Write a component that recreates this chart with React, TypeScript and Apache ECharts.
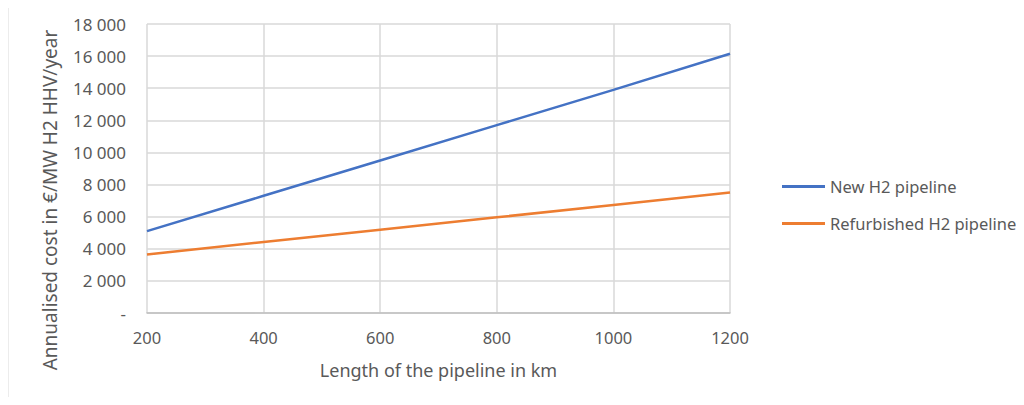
import React, { useEffect, useRef } from "react";
import * as echarts from "echarts";

const lengthsKm = [200, 400, 600, 800, 1000, 1200];
const newH2 = [5100, 7300, 9500, 11700, 13900, 16150];
const refurbishedH2 = [3650, 4420, 5190, 5960, 6730, 7500];
const seriesNames = ["New H2 pipeline", "Refurbished H2 pipeline"];
const xTitle = "Length of the pipeline in km";
const yTitle = "Annualised cost in €/MW H2 HHV/year";

const FONT = "'Noto Sans', sans-serif";
const TXT = "#595959";

export default function App() {
  const ref = useRef<HTMLDivElement>(null);
  useEffect(() => {
    if (!ref.current) return;
    const chart = echarts.init(ref.current, undefined, { renderer: "svg" });
    const fmt = (v: number) => {
      if (v === 0) return "-";
      const s = String(v);
      return s.length > 3 ? s.slice(0, s.length - 3) + " " + s.slice(-3) : s;
    };
    chart.setOption({
      animation: false,
      backgroundColor: "#ffffff",
      textStyle: { fontFamily: FONT },
      grid: { left: 139, right: 286, top: 16, bottom: 84, containLabel: false },
      legend: {
        orient: "vertical",
        left: 769,
        top: 165,
        icon: "rect",
        itemWidth: 43,
        itemHeight: 3,
        itemGap: 20,
        textStyle: { color: TXT, fontSize: 16.5, fontFamily: FONT },
        data: seriesNames,
      },
      xAxis: {
        type: "value",
        min: 200,
        max: 1200,
        interval: 200,
        name: xTitle,
        nameLocation: "middle",
        nameGap: 48,
        nameTextStyle: { color: TXT, fontSize: 18, fontFamily: FONT },
        axisLine: { show: true, lineStyle: { color: "#bfbfbf", width: 1.5 } },
        axisTick: { show: false },
        axisLabel: { color: TXT, fontSize: 16.5, margin: 16, fontFamily: FONT, formatter: (v: number) => String(v) },
        splitLine: { show: true, lineStyle: { color: "#d9d9d9", width: 1.5 } },
      },
      yAxis: {
        type: "value",
        min: 0,
        max: 18000,
        interval: 2000,
        axisLine: { show: false },
        axisTick: { show: false },
        axisLabel: { color: TXT, fontSize: 17, margin: 21, fontFamily: FONT, formatter: fmt },
        splitLine: { show: true, lineStyle: { color: "#d9d9d9", width: 1.5 } },
      },
      graphic: [
        {
          type: "line",
          shape: { x1: 0, y1: 0, x2: 0, y2: 397 },
          style: { stroke: "#d9d9d9", lineWidth: 1 },
        },
        {
          type: "text",
          x: 42,
          y: 192,
          rotation: Math.PI / 2,
          style: {
            text: yTitle,
            fill: TXT,
            fontSize: 19,
            fontFamily: FONT,
            align: "center",
            verticalAlign: "middle",
          },
        },
      ],
      series: [
        {
          name: seriesNames[0],
          type: "line",
          data: lengthsKm.map((x, i) => [x, newH2[i]]),
          showSymbol: false,
          lineStyle: { color: "#4472c4", width: 2.5 },
          itemStyle: { color: "#4472c4" },
        },
        {
          name: seriesNames[1],
          type: "line",
          data: lengthsKm.map((x, i) => [x, refurbishedH2[i]]),
          showSymbol: false,
          lineStyle: { color: "#ed7d31", width: 2.5 },
          itemStyle: { color: "#ed7d31" },
        },
      ],
    });
    return () => chart.dispose();
  }, []);
  return <div ref={ref} style={{ width: 1008, height: 389 }} />;
}
